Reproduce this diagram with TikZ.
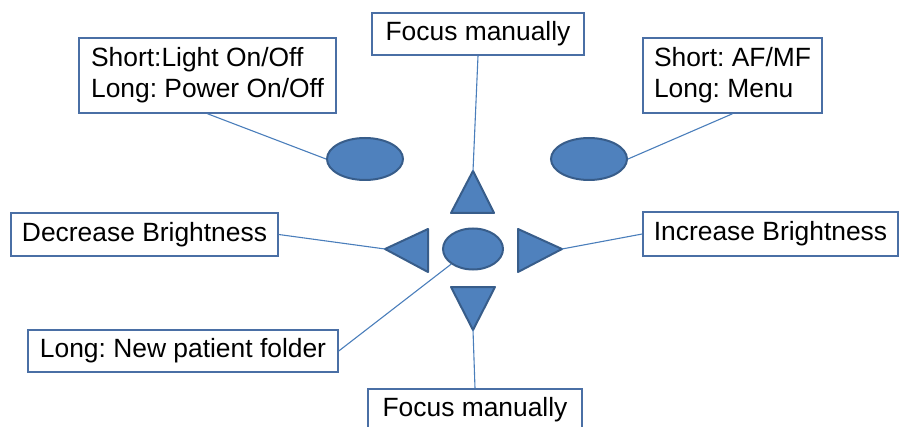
\documentclass[tikz,border=0pt]{standalone}
\usepackage{fontspec}
\setmainfont{Liberation Sans}
\usetikzlibrary{shapes.geometric}
\definecolor{shapefill}{HTML}{4F81BD}
\definecolor{shapeedge}{HTML}{385D8A}
\definecolor{boxedge}{HTML}{4A6FA5}
\definecolor{wire}{HTML}{4A7EBB}
\frenchspacing
\tikzset{
  label box/.style={draw=boxedge, line width=0.75pt, fill=white, inner sep=0pt,
    font=\fontsize{13.2}{15.5}\selectfont\frenchspacing, text=black, align=left},
  btn/.style={ellipse, draw=shapeedge, fill=shapefill, line width=1pt, inner sep=0pt},
  tri/.style={draw=shapeedge, fill=shapefill, line width=1pt, line join=round},
  wire line/.style={draw=wire, line width=0.55pt}
}
\begin{document}
\begin{tikzpicture}[x=0.5pt,y=-0.5pt]
\useasboundingbox (0,0) rectangle (899,427);
% boxes
\node[label box, minimum width=106pt, minimum height=21pt] (top) at (478,34) {Focus manually};
\node[label box, minimum width=128.5pt, minimum height=37.5pt] (tl) at (207.5,75.5) {Short:Light On/Off\\Long: Power On/Off};
\node[label box, minimum width=89.5pt, minimum height=37.5pt] (tr) at (732.5,75.5) {Short: AF/MF\\Long: Menu};
\node[label box, minimum width=133.5pt, minimum height=21.5pt] (dec) at (144.5,234.5) {Decrease Brightness};
\node[label box, minimum width=127.5pt, minimum height=22pt] (inc) at (770.5,234) {Increase Brightness};
\node[label box, minimum width=155pt, minimum height=21pt] (long) at (183,351) {Long: New patient folder};
\node[label box, minimum width=107pt, minimum height=21pt] (bot) at (475,410) {Focus manually};
% buttons
\node[btn, minimum width=38pt, minimum height=21pt] (eL) at (365,159) {};
\node[btn, minimum width=38pt, minimum height=21pt] (eR) at (589,159) {};
\node[btn, minimum width=30pt, minimum height=20.5pt] (eC) at (473,249) {};
% triangles
\coordinate (upA) at (473,171);
\coordinate (leftA) at (385,249);
\coordinate (rightA) at (562,249);
\coordinate (downA) at (473,330);
\draw[tri] (451,213) -- (494,213) -- (upA) -- cycle;
\draw[tri] (428,229) -- (428,272) -- (leftA) -- cycle;
\draw[tri] (518,229) -- (518,272) -- (rightA) -- cycle;
\draw[tri] (451,287) -- (495,287) -- (downA) -- cycle;
% connectors
\draw[wire line] (top.south) -- (upA);
\draw[wire line] (tl.south) -- (eL.west);
\draw[wire line] (tr.south) -- (eR.east);
\draw[wire line] (dec.east) -- (leftA);
\draw[wire line] (inc.west) -- (rightA);
\draw[wire line] (long.east) -- (eC.south west);
\draw[wire line] (downA) -- (bot.north);
\end{tikzpicture}
\end{document}
